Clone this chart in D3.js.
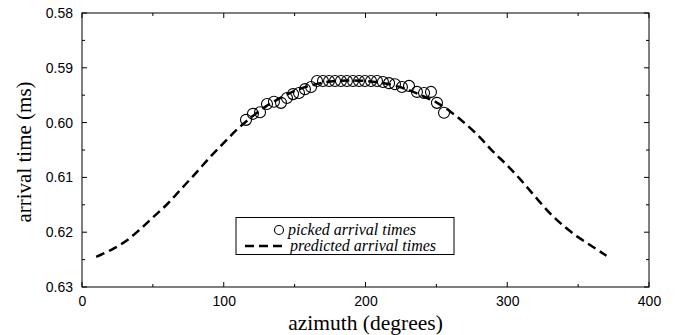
<!DOCTYPE html>
<html><head><meta charset="utf-8">
<script src="https://cdn.jsdelivr.net/npm/d3@7"></script>
<style>body{margin:0;background:#fff}svg{display:block}</style>
</head><body>
<svg id="c" width="675" height="335"></svg>
<script>
// picked arrival times (azimuth deg, time ms)
const pickedAz = [115.7,120.6,125.6,130.5,135.4,140.4,144.6,148.9,153.1,157.3,161.6,165.8,170,174.3,178.5,182.7,186.9,191.2,195.4,199.6,203.9,208.1,212.3,216.6,220.8,225.7,230.7,236.3,241.3,246.2,250.4,255.4];
const pickedT  = [0.5995,0.5984,0.5981,0.5966,0.5962,0.5964,0.5955,0.5948,0.5946,0.5939,0.5935,0.5924,0.5924,0.5924,0.5924,0.5924,0.5924,0.5924,0.5924,0.5924,0.5924,0.5924,0.5926,0.5928,0.5930,0.5935,0.5933,0.5944,0.5946,0.5944,0.5964,0.5982];
// predicted arrival times
const predAz = [10,20,30,40,50,60,70,80,90,100,110,120,130,140,150,160,170,180,190,200,210,220,230,240,250,260,270,280,290,300,310,320,330,340,350,360,370];
const predT  = [0.6245,0.6233,0.6218,0.6197,0.6173,0.6149,0.6121,0.6093,0.6064,0.6037,0.6011,0.5989,0.5970,0.5955,0.5942,0.5933,0.5927,0.5924,0.5923,0.5924,0.5927,0.5932,0.5940,0.5951,0.5963,0.5980,0.6001,0.6025,0.6053,0.6078,0.6106,0.6136,0.6165,0.6189,0.6209,0.6226,0.6243];
const xTicks = [0,100,200,300,400];
const yTicks = [0.58,0.59,0.60,0.61,0.62,0.63];
const legendLabels = ["picked arrival times","predicted arrival times"];

const svg = d3.select("#c");
const L=82, R=649, T=13, B=287;
const x = d3.scaleLinear().domain([0,400]).range([L,R]);
const y = d3.scaleLinear().domain([0.58,0.63]).range([T,B]);

const tickFont = "'Liberation Sans', Arial, sans-serif";
const serif = "'Liberation Serif', 'Times New Roman', serif";

// frame
svg.append("rect").attr("x",L).attr("y",T).attr("width",R-L).attr("height",B-T)
  .attr("fill","none").attr("stroke","#000").attr("stroke-width",1);

// ticks (inward, all sides)
const xMinor = d3.range(0,401,50);
const yMinor = d3.range(0,11).map(i=>0.58+i*0.005);
const g = svg.append("g").attr("stroke","#000").attr("stroke-width",1);
xMinor.forEach(v=>{
  const len = (v%100===0)?5:3;
  g.append("line").attr("x1",x(v)).attr("x2",x(v)).attr("y1",B).attr("y2",B-len);
  g.append("line").attr("x1",x(v)).attr("x2",x(v)).attr("y1",T).attr("y2",T+len);
});
yMinor.forEach((v,i)=>{
  const len = (i%2===0)?5:3;
  g.append("line").attr("y1",y(v)).attr("y2",y(v)).attr("x1",L).attr("x2",L+len);
  g.append("line").attr("y1",y(v)).attr("y2",y(v)).attr("x1",R).attr("x2",R-len);
});

// axes labels via d3 axes (no lines)
const xa = svg.append("g").attr("transform",`translate(0,${B})`)
  .call(d3.axisBottom(x).tickValues(xTicks).tickSize(0).tickPadding(9).tickFormat(d3.format("d")));
xa.select(".domain").remove();
xa.selectAll("text").attr("font-family",tickFont).attr("font-size",14).attr("fill","#000");
const ya = svg.append("g").attr("transform",`translate(${L},0)`)
  .call(d3.axisLeft(y).tickValues(yTicks).tickSize(0).tickPadding(9).tickFormat(d3.format(".2f")));
ya.select(".domain").remove();
ya.selectAll("text").attr("font-family",tickFont).attr("font-size",14).attr("fill","#000");

// titles
svg.append("text").attr("x",(L+R)/2).attr("y",330).attr("text-anchor","middle")
  .attr("font-family",serif).attr("font-size",21.5).text("azimuth (degrees)");
svg.append("text").attr("transform","translate(31,152) rotate(-90)").attr("text-anchor","middle")
  .attr("font-family",serif).attr("font-size",21).text("arrival time (ms)");

// predicted curve
const line = d3.line().x(d=>x(d[0])).y(d=>y(d[1])).curve(d3.curveCatmullRom);
svg.append("path").datum(predAz.map((a,i)=>[a,predT[i]])).attr("d",line)
  .attr("fill","none").attr("stroke","#000").attr("stroke-width",2.5).attr("stroke-dasharray","9,5");

// picked points
svg.append("g").selectAll("circle").data(pickedAz.map((a,i)=>[a,pickedT[i]])).join("circle")
  .attr("cx",d=>x(d[0])).attr("cy",d=>y(d[1])).attr("r",5.5)
  .attr("fill","none").attr("stroke","#000").attr("stroke-width",1.1);

// legend
const lg = svg.append("g");
lg.append("rect").attr("x",236).attr("y",217.5).attr("width",218).attr("height",37)
  .attr("fill","#fff").attr("stroke","#000").attr("stroke-width",1);
lg.append("circle").attr("cx",279).attr("cy",230).attr("r",4.5).attr("fill","none").attr("stroke","#000").attr("stroke-width",1.1);
lg.append("text").attr("x",288).attr("y",235).attr("font-family",serif).attr("font-style","italic").attr("font-size",16).text(legendLabels[0]);
lg.append("line").attr("x1",245).attr("x2",284).attr("y1",246).attr("y2",246)
  .attr("stroke","#000").attr("stroke-width",2.5).attr("stroke-dasharray","9,5");
lg.append("text").attr("x",290).attr("y",250.5).attr("font-family",serif).attr("font-style","italic").attr("font-size",16).text(legendLabels[1]);
</script>
</body></html>
